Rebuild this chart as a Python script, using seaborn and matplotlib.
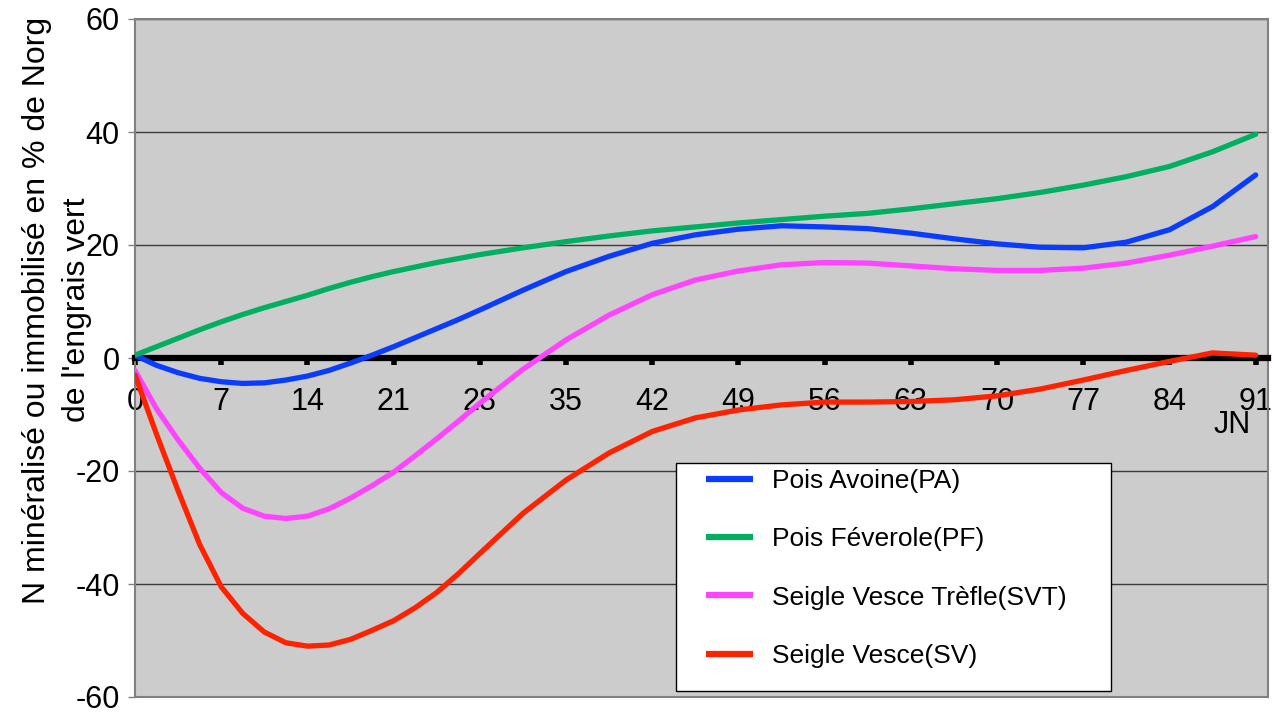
import numpy as np
import pandas as pd
import matplotlib
matplotlib.use('Agg')
import matplotlib.pyplot as plt
import seaborn as sns
from matplotlib.patches import Rectangle
from matplotlib.lines import Line2D

# jours apres enfouissement (JN)
days = [0, 1.75, 3.5, 5.25, 7, 8.75, 10.5, 12.25, 14, 15.75, 17.5, 19.25, 21, 22.75, 24.5, 26.25,
        28, 31.5, 35, 38.5, 42, 45.5, 49, 52.5, 56, 59.5, 63, 66.5, 70, 73.5, 77, 80.5, 84, 87.5, 91]

# N mineralise (+) ou immobilise (-) en % de Norg
pa = [0.5, -1.3, -2.6, -3.6, -4.2, -4.5, -4.4, -3.9, -3.2, -2.2, -0.9, 0.5, 2.0, 3.6, 5.2, 6.8,
      8.5, 12.0, 15.3, 18.0, 20.3, 21.8, 22.8, 23.4, 23.2, 22.9, 22.1, 21.1, 20.2, 19.6, 19.5,
      20.5, 22.7, 26.8, 32.4]
pf = [0.5, 2.0, 3.5, 5.0, 6.4, 7.7, 8.9, 10.0, 11.1, 12.3, 13.4, 14.4, 15.3, 16.1, 16.9, 17.6,
      18.3, 19.5, 20.6, 21.6, 22.5, 23.2, 23.9, 24.5, 25.1, 25.6, 26.4, 27.3, 28.2, 29.3, 30.6,
      32.1, 33.9, 36.5, 39.6]
svt = [-2.2, -9.0, -14.5, -19.5, -23.8, -26.6, -28.0, -28.4, -28.0, -26.7, -24.8, -22.6, -20.2, -17.3, -14.3, -11.2,
       -8.0, -2.0, 3.2, 7.6, 11.2, 13.8, 15.4, 16.5, 16.9, 16.8, 16.3, 15.8, 15.5, 15.5, 15.9,
       16.8, 18.2, 19.8, 21.5]
sv = [-3.0, -13.5, -23.5, -33.0, -40.5, -45.2, -48.5, -50.4, -51.0, -50.8, -49.8, -48.2, -46.5, -44.2, -41.5, -38.2,
      -34.6, -27.5, -21.6, -16.8, -13.0, -10.6, -9.2, -8.3, -7.8, -7.8, -7.7, -7.4, -6.7, -5.5, -3.9,
      -2.2, -0.6, 0.9, 0.5]

labels = ['Pois Avoine(PA)', 'Pois Féverole(PF)', 'Seigle Vesce Trèfle(SVT)', 'Seigle Vesce(SV)']
colors = ['#0A3CFF', '#00B060', '#FF44FF', '#FF2200']
x_ticks = list(range(0, 92, 7))
y_ticks = [-60, -40, -20, 0, 20, 40, 60]

df = pd.DataFrame({
    'JN': days * 4,
    'N': pa + pf + svt + sv,
    'Engrais': np.repeat(labels, len(days)),
})

sns.set_style('white')
plt.rcParams['font.family'] = ['Liberation Sans', 'DejaVu Sans']
plt.rcParams['axes.unicode_minus'] = False
plt.rcParams['text.color'] = 'black'
plt.rcParams['xtick.color'] = 'black'
plt.rcParams['ytick.color'] = 'black'

W, H = 1280, 723
fig = plt.figure(figsize=(12.8, 7.23), dpi=100)
ax = fig.add_axes([135 / W, 1 - 697 / H, (1268 - 135) / W, (697 - 19) / H])
ax.set_facecolor('#CCCCCC')

sns.lineplot(data=df, x='JN', y='N', hue='Engrais', hue_order=labels, palette=colors,
             linewidth=3.8, ax=ax, legend=False, zorder=3)

ax.set_xlim(0, 92)
ax.set_ylim(-60, 60)
ax.set_xticks(x_ticks)
ax.set_yticks(y_ticks)
ax.grid(axis='y', color='#3a3a3a', linewidth=1)
ax.set_xlabel('')
ax.set_ylabel('')

for s in ['left', 'top', 'right']:
    ax.spines[s].set_color('#808080')
    ax.spines[s].set_linewidth(1.5)
ax.spines['bottom'].set_position(('data', 0))
ax.spines['bottom'].set_color('black')
ax.spines['bottom'].set_linewidth(4.5)
ax.axhline(-60, color='#808080', linewidth=1.5, clip_on=False)

ax.tick_params(axis='x', bottom=True, direction='out', length=5, width=4, color='black',
               labelcolor='black', labelsize=22, pad=16)
ax.tick_params(axis='y', left=True, direction='out', length=5, width=1, color='#808080',
               labelcolor='black', labelsize=22, pad=6)

fig.text(57 / W, 1 - 310 / H, "N minéralisé ou immobilisé en % de Norg\nde l'engrais vert",
         rotation=90, ha='center', va='center', fontsize=23, linespacing=1.4,
         multialignment='center', color='black')
fig.text(1232 / W, 1 - 425 / H, 'JN', ha='center', va='center', fontsize=22, color='black')

# legende
fig.add_artist(Rectangle((676 / W, 1 - 691 / H), (1111 - 676) / W, (691 - 463) / H,
                         facecolor='white', edgecolor='black', linewidth=1,
                         transform=fig.transFigure, zorder=4))
handles = [Line2D([], [], color=c, linewidth=4.5, solid_capstyle='butt') for c in colors]
leg = fig.legend(handles, labels, loc='upper left', bbox_to_anchor=(706 / W, 1 - 469 / H),
                 frameon=False, fontsize=19, handlelength=1.78, handletextpad=0.72,
                 labelspacing=1.3, borderpad=0, borderaxespad=0)
leg.set_zorder(6)
for t in leg.get_texts():
    t.set_color('black')

fig.savefig('out.png', dpi=100)
